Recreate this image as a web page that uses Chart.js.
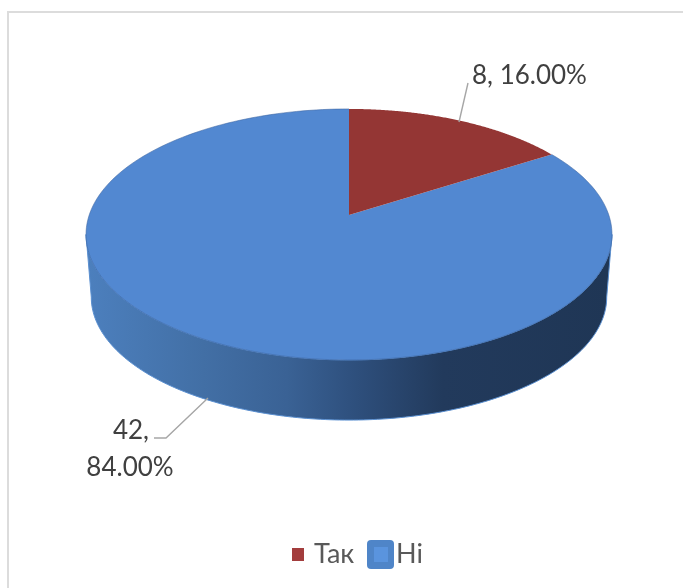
<!DOCTYPE html>
<html>
<head>
<meta charset="utf-8">
<style>
  html, body { margin: 0; background: #fff; }
  canvas { display: block; }
</style>
<script src="https://cdn.jsdelivr.net/npm/chart.js@4/dist/chart.umd.min.js"></script>
</head>
<body>
<canvas id="pieChart" width="683" height="588"></canvas>
<script>
const categories = ["Так", "Ні"];
const answers = [8, 42];
const sliceColors = ["#943634", "#5288d1"];

const RADIUS_X = 259.8;
const RADIUS_Y = 122.5;
const TILT = -0.155;
const WALL_SHIFT = 63;
const WALL_SCALE = 0.98;
const FONT = '26px Lato, "Open Sans", sans-serif';
const LEGEND_FONT = '27px Lato, "Open Sans", sans-serif';
const TEXT_COLOR = "#404040";
const LEADER_COLOR = "#a6a6a6";

// maps an arc angle to the tilted disc, near edge bigger than far edge
function project(cx, cy, angle, scale = 1) {
  const u = Math.cos(angle);
  const v = Math.sin(angle);
  const w = 1 + TILT * v;
  return { x: cx + (scale * RADIUS_X * u) / w, y: cy + (scale * RADIUS_Y * v) / w };
}

function traceRim(ctx, cx, cy, from, to, scale = 1) {
  const steps = 180;
  for (let i = 0; i <= steps; i++) {
    const p = project(cx, cy, from + ((to - from) * i) / steps, scale);
    ctx.lineTo(p.x, p.y);
  }
}

function drawWall(ctx, arc) {
  const rimAngle = Math.asin(-TILT);
  const grad = ctx.createLinearGradient(arc.x - RADIUS_X, 0, arc.x + RADIUS_X, 0);
  grad.addColorStop(0, "#4c7fbd");
  grad.addColorStop(0.22, "#426fa5");
  grad.addColorStop(0.38, "#3a6295");
  grad.addColorStop(0.5, "#2f517f");
  grad.addColorStop(0.68, "#223a5c");
  grad.addColorStop(1, "#1f3655");

  ctx.beginPath();
  traceRim(ctx, arc.x, arc.y, rimAngle, Math.PI - rimAngle);
  traceRim(ctx, arc.x, arc.y + WALL_SHIFT, Math.PI - rimAngle, rimAngle, WALL_SCALE);
  ctx.closePath();
  ctx.fillStyle = grad;
  ctx.fill();
  ctx.strokeStyle = "#5a8fd0";
  ctx.lineWidth = 1;
  ctx.stroke();
}

function drawSlice(ctx, arc, color) {
  ctx.beginPath();
  ctx.moveTo(arc.x, arc.y);
  traceRim(ctx, arc.x, arc.y, arc.startAngle, arc.endAngle);
  ctx.closePath();
  ctx.fillStyle = color;
  ctx.fill();
}

function drawLeader(ctx, points) {
  ctx.beginPath();
  points.forEach(([x, y]) => ctx.lineTo(x, y));
  ctx.strokeStyle = LEADER_COLOR;
  ctx.lineWidth = 1.4;
  ctx.stroke();
}

function drawRoundSwatch(ctx, x, y, w, h, r, color) {
  ctx.beginPath();
  ctx.roundRect(x, y, w, h, r);
  ctx.fillStyle = color;
  ctx.fill();
}

const tiltedPie = {
  id: "tiltedPie",
  beforeDraw(chart) {
    const { ctx } = chart;
    ctx.fillStyle = "#dcdcdc";
    ctx.fillRect(7, 11, 676, 2);
    ctx.fillRect(7, 11, 2, 577);
  },
  // the flat pie is replaced by the tilted one, same elements and angles
  beforeDatasetsDraw(chart) {
    const { ctx } = chart;
    const arcs = chart.getDatasetMeta(0).data;
    const colors = chart.data.datasets[0].backgroundColor;

    ctx.save();
    drawWall(ctx, arcs[0]);
    // blue goes first so the red slice sits cleanly on top of its edge
    drawSlice(ctx, arcs[1], colors[1]);
    drawSlice(ctx, arcs[0], colors[0]);

    ctx.beginPath();
    traceRim(ctx, arcs[0].x, arcs[0].y, arcs[1].startAngle, arcs[1].endAngle);
    ctx.strokeStyle = "rgba(60,100,160,0.55)";
    ctx.lineWidth = 1;
    ctx.stroke();
    ctx.restore();
    return false;
  },
  afterDraw(chart) {
    const { ctx } = chart;
    const total = answers.reduce((a, b) => a + b, 0);
    const pct = answers.map(v => ((v / total) * 100).toFixed(2) + "%");

    ctx.save();
    drawLeader(ctx, [[468, 83], [459, 122]]);
    drawLeader(ctx, [[154, 438], [166, 438], [208, 398]]);

    ctx.font = FONT;
    ctx.fillStyle = TEXT_COLOR;
    ctx.textBaseline = "alphabetic";
    ctx.textAlign = "left";
    ctx.fillText(`${answers[0]}, ${pct[0]}`, 472, 84);
    ctx.textAlign = "right";
    ctx.fillText(`${answers[1]},`, 149, 439);
    ctx.textAlign = "center";
    ctx.fillText(pct[1], 130, 476);

    // legend
    ctx.textAlign = "left";
    ctx.fillStyle = "#a33d3d";
    ctx.fillRect(292, 548, 12, 13);
    drawRoundSwatch(ctx, 367, 540, 27, 29, 4, "#4f85c8");
    ctx.fillStyle = "#5a94de";
    ctx.fillRect(374, 547, 14, 15);
    ctx.font = LEGEND_FONT;
    ctx.fillStyle = "#595959";
    ctx.fillText(categories[0], 314, 563);
    ctx.fillText(categories[1], 396, 563);
    ctx.restore();
  },
};

new Chart(document.getElementById("pieChart"), {
  type: "pie",
  data: {
    labels: categories,
    datasets: [{ data: answers, backgroundColor: sliceColors, borderWidth: 0 }],
  },
  options: {
    responsive: false,
    animation: false,
    layout: { padding: { left: 15, top: 0, bottom: 158, right: 0 } },
    plugins: { legend: { display: false }, tooltip: { enabled: false } },
  },
  plugins: [tiltedPie],
});
</script>
</body>
</html>
